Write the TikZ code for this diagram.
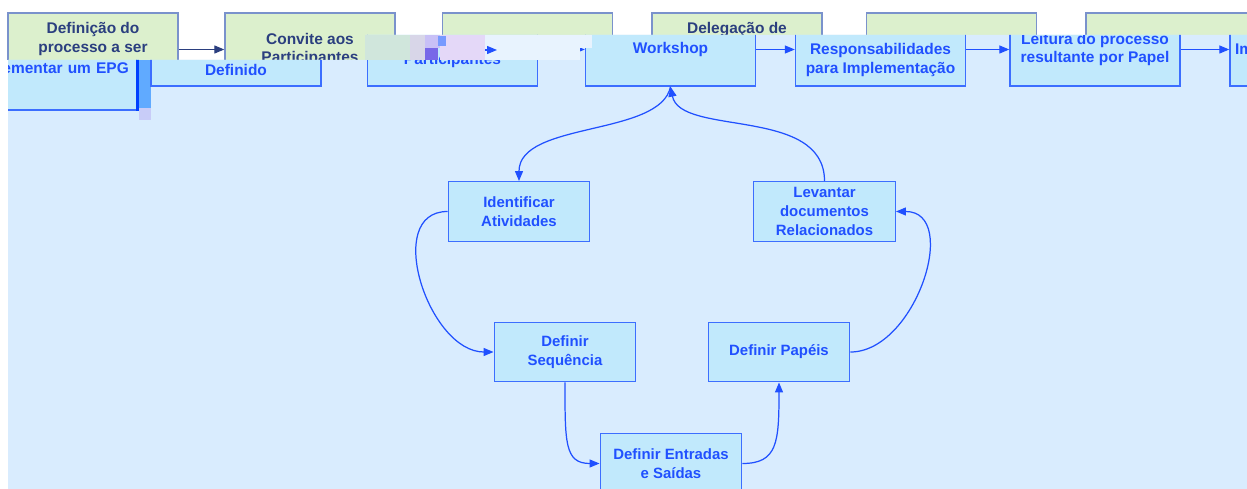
\documentclass[tikz,border=0pt]{standalone}
\usepackage{fontspec}
\setmainfont{Liberation Sans}
\usetikzlibrary{arrows.meta,positioning}
\definecolor{bgblue}{RGB}{217,236,254}
\definecolor{boxfill}{RGB}{193,233,252}
\definecolor{boxline}{RGB}{60,110,255}
\definecolor{boxtext}{RGB}{32,80,255}
\definecolor{edgeblue}{RGB}{0,64,255}
\definecolor{stripeblue}{RGB}{96,170,255}
\definecolor{stripepale}{RGB}{200,204,248}
\definecolor{greenfill}{RGB}{220,240,205}
\definecolor{greenline}{RGB}{122,146,204}
\definecolor{greentext}{RGB}{43,63,127}
\definecolor{noisemint}{RGB}{208,230,220}
\definecolor{noisegray}{RGB}{216,214,232}
\definecolor{noiselav}{RGB}{200,192,246}
\definecolor{noisepurple}{RGB}{120,104,232}
\definecolor{noisepink}{RGB}{228,216,248}
\definecolor{noisepale}{RGB}{232,243,254}
\newcommand{\blankline}{\mbox{}\strut}

\begin{document}
\begin{tikzpicture}[x=0.02cm, y=-0.02cm,
    topbox/.style={rectangle, draw=greenline, line width=0.8pt, fill=greenfill,
        minimum width=3.4cm, minimum height=1.46cm, align=center, inner sep=2pt,
        font=\fontsize{8.8}{10.8}\selectfont\bfseries, text=greentext},
    stepbox/.style={rectangle, draw=boxline, line width=0.8pt, fill=boxfill,
        minimum width=3.4cm, minimum height=1.46cm, align=center, inner sep=2pt,
        font=\fontsize{8.8}{10.8}\selectfont\bfseries, text=boxtext},
    subbox/.style={stepbox, minimum width=2.83cm, minimum height=1.19cm,
        font=\fontsize{8.5}{10.8}\selectfont\bfseries},
    garr/.style={-{Triangle[length=2mm, width=1.6mm]}, line width=0.7pt, greentext},
    arr/.style={-{Triangle[length=2mm, width=1.6mm]}, line width=0.7pt, boxtext}
]
    \useasboundingbox (0,0) rectangle (1247,489);

    % Top strip
    \begin{scope}
        \clip (0,0) -- (1247,0) -- (1247,35) -- (365,35) -- (365,60) -- (0,60) -- cycle;
        \fill[white] (0,0) rectangle (1247,60);
        \node[topbox] (g1) at (93,49.5) {Definição do\\processo a ser\\\blankline};
        \node[topbox] (g2) at (310,49.5) {Convite aos\\Participantes};
        \node[topbox] (g3) at (527.5,49.5) {};
        \node[topbox] (g4) at (737,49.5) {Delegação de\\\blankline\\\blankline};
        \node[topbox] (g5) at (951.5,49.5) {};
        \node[topbox] (g6) at (1171,49.5) {};
        \draw[garr] (g1) -- (g2);
    \end{scope}

    % Main area
    \begin{scope}
        \clip (8,60) -- (365,60) -- (365,35) -- (1247,35) -- (1247,489) -- (8,489) -- cycle;
        \fill[bgblue] (0,0) rectangle (1247,489);

        \node[stepbox, anchor=east, minimum width=4cm, minimum height=1.68cm,
            text width=3.7cm, inner xsep=0.14cm, align=right] (b0) at (137,68) {ementar um EPG};
        \draw[edgeblue, line width=0.06cm] (b0.north east) -- (b0.south east);
        \fill[stripeblue] (139,60) rectangle (151,108);
        \fill[stripepale] (139,108) rectangle (151,120);

        \node[stepbox] (b1) at (236,49.5) {\blankline\\\blankline\\Definido};
        \node[stepbox] (b2) at (452.5,49.5) {\blankline\\Participantes};
        \node[stepbox] (b3) at (670.5,49.5) {Workshop};
        \node[stepbox] (b4) at (880.5,49.5) {\blankline\\Responsabilidades\\para Implementação};
        \node[stepbox] (b5) at (1095,49.5) {Leitura do processo\\resultante por Papel};
        \node[stepbox, text width=3.2cm, inner xsep=0.1cm, align=left] (b6) at (1315,49.5) {Im};

        \draw[arr] (b2) -- (b3);
        \draw[arr] (b3) -- (b4);
        \draw[arr] (b4) -- (b5);
        \draw[arr] (b5) -- (b6);

        % Workshop cycle
        \node[subbox] (ident) at (519,211.5) {Identificar\\Atividades};
        \node[subbox] (lev) at (824.5,211.5) {Levantar\\documentos\\Relacionados};
        \node[subbox] (seq) at (565,352) {Definir\\Sequência};
        \node[subbox] (pap) at (779,352) {Definir Papéis};
        \node[subbox] (ent) at (671,463.5) {Definir Entradas\\e Saídas};

        \draw[arr] (b3.south) .. controls +(-10,50) and +(0,-60) .. (ident.north);
        \draw[arr] (ident.west) .. controls +(-65,0) and +(-65,0) .. (seq.west);
        \draw[arr] (seq.south) .. controls +(0,60) and +(-35,0) .. (ent.west);
        \draw[arr] (ent.east) .. controls +(35,0) and +(0,60) .. (pap.south);
        \draw[arr] (pap.east) .. controls +(65,0) and +(65,0) .. (lev.east);
        \draw[arr] (lev.north) .. controls +(0,-75) and +(10,50) .. (b3.south);
    \end{scope}

    % Broken strip
    \fill[noisemint] (365,35) rectangle (410,60);
    \fill[noisegray] (410,35) rectangle (425,60);
    \fill[noiselav] (425,35) rectangle (440,48);
    \fill[noisepurple] (425,48) rectangle (438,60);
    \fill[noisepink] (440,35) rectangle (485,60);
    \fill[boxline!70] (438,36) rectangle (446,46);
    \fill[noisepale] (485,35) rectangle (592,48);
    \fill[noisepale] (485,48) rectangle (580,60);
    \coordinate (nz1) at (485,50);
    \coordinate (nz2) at (497,50);
    \draw[arr] (nz1) -- (nz2);
\end{tikzpicture}
\end{document}
